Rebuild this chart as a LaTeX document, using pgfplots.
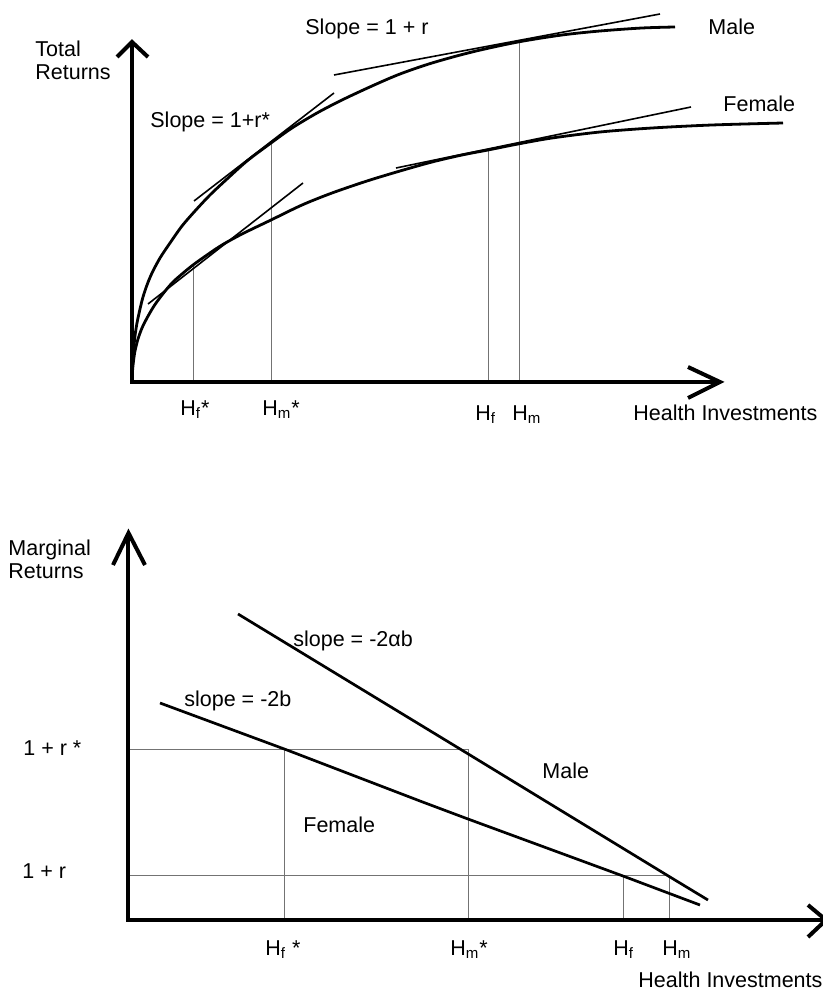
\documentclass[border=0pt]{standalone}
\usepackage{pgfplots}
\pgfplotsset{compat=1.18}
\usepackage{fontspec}
\setmainfont{Liberation Sans}
\begin{document}
\begin{tikzpicture}[lbl/.style={font=\fontsize{10.75}{12}\selectfont, inner sep=0pt, anchor=base west}]
\begin{axis}[name=ax, width=411.5pt, height=494.5pt, scale only axis,
  xmin=0, xmax=823, ymin=0, ymax=989, y dir=reverse, hide axis, clip=false]
% ---------- top panel: guide lines
\addplot[black!55, line width=0.45pt] coordinates {(193,265) (193,382)};
\addplot[black!55, line width=0.45pt] coordinates {(271,143) (271,382)};
\addplot[black!55, line width=0.45pt] coordinates {(488,150) (488,382)};
\addplot[black!55, line width=0.45pt] coordinates {(519,42) (519,382)};
% male total returns
\addplot[black, line width=1.4pt, smooth, tension=0.5] coordinates {
(132,381) (132.5,366) (133.5,351) (135,336) (137,323) (140,309) (143,297) (147,285) (152,273)
(160,258) (170,243) (182,226) (195,211) (210,195) (227,179) (247,161) (271,143) (292,128)
(317,113) (342,100) (372,86) (400,74) (432,63) (472,52) (518,42) (562,35) (600,31) (642,28) (675,27)};
% female total returns
\addplot[black, line width=1.4pt, smooth, tension=0.5] coordinates {
(132,381) (132.5,371) (133.5,361) (135,351) (138,339) (142,328) (147,318) (154,306) (162,295)
(172,283) (182,274) (193,265) (207,255) (222,245) (242,234) (271,220) (302,205) (332,193)
(367,181) (400,171) (432,162) (462,155) (488,150) (518,144) (552,138) (600,132) (652,128)
(712,125) (783,123)};
% tangents
\addplot[black, line width=0.8pt] coordinates {(194,201) (334,93)};
\addplot[black, line width=0.8pt] coordinates {(334,75) (660,14)};
\addplot[black, line width=0.8pt] coordinates {(148,304) (303,183)};
\addplot[black, line width=0.8pt] coordinates {(396,168) (691,107)};
% axes
\addplot[black, line width=2pt] coordinates {(132,42) (132,382) (718,382)};
\addplot[black, line width=2pt, line join=miter] coordinates {(117,57) (132,42) (148,57)};
\addplot[black, line width=2pt, line join=miter] coordinates {(688,367) (720,382) (688,398)};
% labels top
\node[lbl] at (axis cs:35,57) {Total};
\node[lbl] at (axis cs:35,80) {Returns};
\node[lbl] at (axis cs:305,35) {Slope = 1 + r};
\node[lbl] at (axis cs:150,128) {Slope = 1+r*};
\node[lbl] at (axis cs:708,35) {Male};
\node[lbl] at (axis cs:723,112) {Female};
\node[lbl] at (axis cs:180,415) {H\textsubscript{f}*};
\node[lbl] at (axis cs:262,415) {H\textsubscript{m}*};
\node[lbl] at (axis cs:475,420) {H\textsubscript{f}};
\node[lbl] at (axis cs:512,420) {H\textsubscript{m}};
\node[lbl] at (axis cs:633,420) {Health Investments};
% ---------- bottom panel: grid lines
\addplot[black!55, line width=0.5pt] coordinates {(128,749.5) (468,749.5) (468,920)};
\addplot[black!55, line width=0.5pt] coordinates {(284,749.5) (284,920)};
\addplot[black!55, line width=0.5pt] coordinates {(128,875) (669,875) (669,920)};
\addplot[black!55, line width=0.5pt] coordinates {(623,875) (623,920)};
% marginal returns
\addplot[black, line width=1.35pt] coordinates {(160,703) (287,750) (420,801) (468,819) (623,876) (700,905)};
\addplot[black, line width=1.35pt] coordinates {(238,614) (465,752) (670,877) (708,900)};
% axes
\addplot[black, line width=2pt] coordinates {(128,535) (128,920) (826,920)};
\addplot[black, line width=2pt, line join=miter] coordinates {(113,565) (128.5,533) (145,565)};
\addplot[black, line width=2pt, line join=miter] coordinates {(808,905) (826,920) (808,937)};
% labels bottom
\node[lbl] at (axis cs:8,555) {Marginal};
\node[lbl] at (axis cs:8,578) {Returns};
\node[lbl] at (axis cs:293,646) {slope = -2αb};
\node[lbl] at (axis cs:184,706) {slope = -2b};
\node[lbl] at (axis cs:23,755) {1 + r *};
\node[lbl] at (axis cs:22,878) {1 + r};
\node[lbl] at (axis cs:303,832) {Female};
\node[lbl] at (axis cs:542,778) {Male};
\node[lbl] at (axis cs:265,955) {H\textsubscript{f} *};
\node[lbl] at (axis cs:450,955) {H\textsubscript{m}*};
\node[lbl] at (axis cs:613,955) {H\textsubscript{f}};
\node[lbl] at (axis cs:662,955) {H\textsubscript{m}};
\node[lbl] at (axis cs:638,987) {Health Investments};
\end{axis}
\pgfresetboundingbox
\path[use as bounding box] (ax.south west) rectangle (ax.north east);
\end{tikzpicture}
\end{document}
